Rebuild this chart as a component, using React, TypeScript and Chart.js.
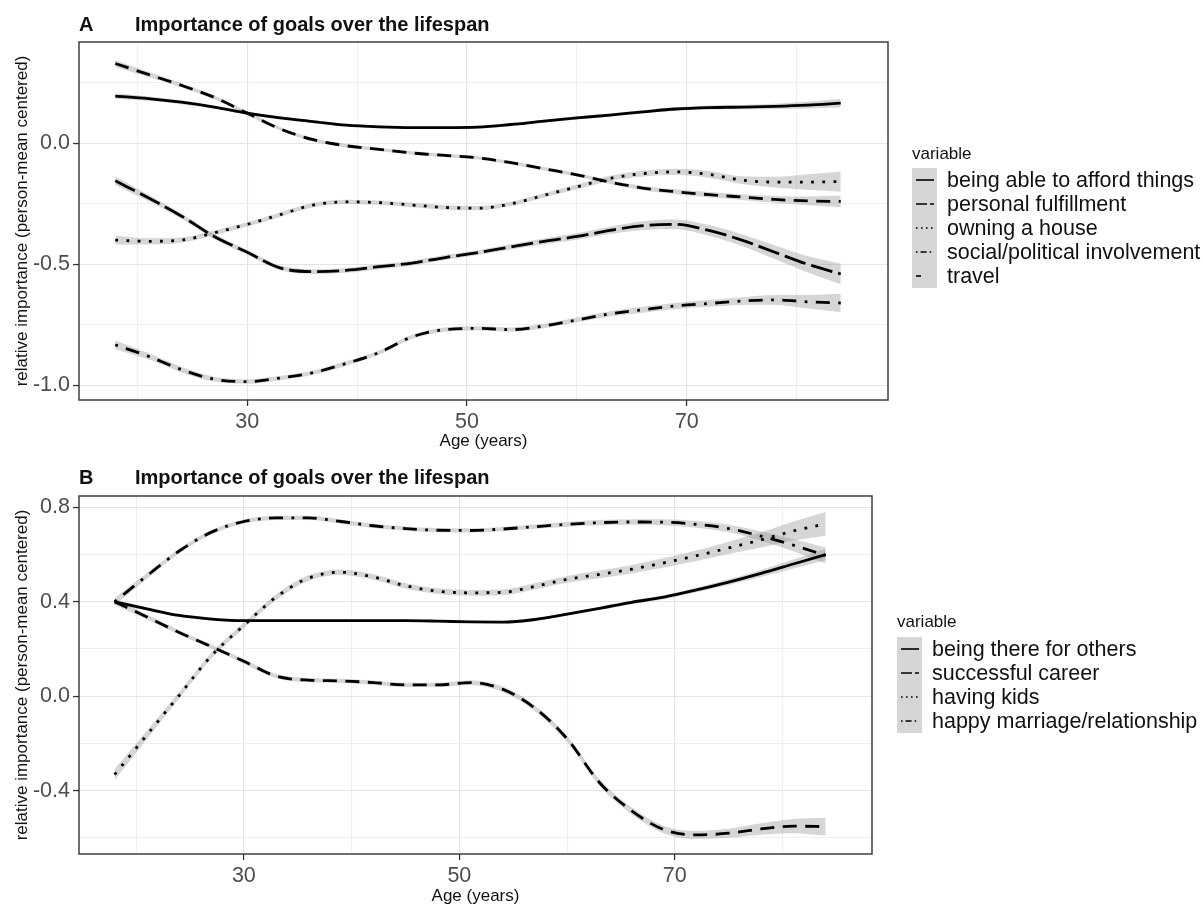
import React, { useEffect, useRef } from "react";
import { Chart, registerables } from "chart.js";

Chart.register(...registerables);

const FONT = "'Liberation Sans', Arial, Helvetica, sans-serif";
const BAND = "rgba(153,153,153,0.4)";

// Ages at which the smoothed curves are tabulated
const ages = [18, 21, 24, 27, 30, 33, 36, 39, 42, 45, 48, 51, 54, 57, 60, 63, 66, 69, 72, 75, 78, 81, 84];

// Panel A: smoothed relative importance
const affordThings = [0.195, 0.185, 0.17, 0.15, 0.125, 0.105, 0.09, 0.075, 0.068, 0.065, 0.065, 0.067, 0.078, 0.092, 0.105, 0.117, 0.13, 0.142, 0.148, 0.15, 0.153, 0.158, 0.166];
const personalFulfillment = [0.33, 0.285, 0.24, 0.19, 0.125, 0.06, 0.015, -0.01, -0.025, -0.04, -0.05, -0.06, -0.08, -0.105, -0.13, -0.16, -0.185, -0.2, -0.212, -0.222, -0.232, -0.238, -0.24];
const owningHouse = [-0.4, -0.405, -0.4, -0.37, -0.335, -0.295, -0.255, -0.242, -0.245, -0.255, -0.265, -0.268, -0.25, -0.215, -0.18, -0.145, -0.125, -0.118, -0.128, -0.152, -0.16, -0.16, -0.158];
const socialPolitical = [-0.833, -0.88, -0.935, -0.975, -0.985, -0.97, -0.948, -0.91, -0.865, -0.8, -0.77, -0.765, -0.77, -0.755, -0.73, -0.705, -0.688, -0.672, -0.662, -0.652, -0.647, -0.655, -0.66];
const travel = [-0.155, -0.225, -0.3, -0.385, -0.45, -0.515, -0.53, -0.525, -0.51, -0.495, -0.472, -0.452, -0.428, -0.405, -0.385, -0.36, -0.34, -0.335, -0.36, -0.4, -0.45, -0.5, -0.54];

// Panel A: half-widths of the confidence ribbons
const affordThingsCi = [0.012, 0.009, 0.008, 0.007, 0.007, 0.006, 0.006, 0.006, 0.006, 0.006, 0.006, 0.006, 0.006, 0.006, 0.006, 0.006, 0.007, 0.007, 0.008, 0.009, 0.011, 0.014, 0.018];
const personalFulfillmentCi = [0.014, 0.011, 0.009, 0.008, 0.008, 0.007, 0.007, 0.007, 0.007, 0.007, 0.007, 0.007, 0.007, 0.007, 0.007, 0.008, 0.009, 0.01, 0.011, 0.012, 0.014, 0.018, 0.024];
const owningHouseCi = [0.018, 0.013, 0.011, 0.01, 0.009, 0.009, 0.009, 0.009, 0.009, 0.009, 0.009, 0.009, 0.009, 0.009, 0.01, 0.011, 0.012, 0.013, 0.014, 0.016, 0.022, 0.032, 0.042];
const socialPoliticalCi = [0.018, 0.013, 0.011, 0.01, 0.009, 0.009, 0.009, 0.009, 0.009, 0.009, 0.009, 0.009, 0.009, 0.009, 0.01, 0.011, 0.012, 0.013, 0.014, 0.016, 0.02, 0.028, 0.038];
const travelCi = [0.018, 0.013, 0.011, 0.01, 0.01, 0.01, 0.01, 0.01, 0.01, 0.01, 0.01, 0.01, 0.011, 0.012, 0.013, 0.015, 0.018, 0.02, 0.022, 0.024, 0.028, 0.034, 0.042];

// Panel B: smoothed relative importance
const beingThere = [0.4, 0.37, 0.342, 0.327, 0.32, 0.32, 0.32, 0.32, 0.32, 0.32, 0.318, 0.315, 0.314, 0.325, 0.348, 0.372, 0.398, 0.42, 0.45, 0.483, 0.52, 0.56, 0.6];
const successfulCareer = [0.4, 0.336, 0.27, 0.21, 0.148, 0.085, 0.068, 0.065, 0.058, 0.048, 0.048, 0.058, 0.03, -0.05, -0.18, -0.365, -0.485, -0.565, -0.587, -0.58, -0.562, -0.55, -0.552];
const havingKids = [-0.332, -0.164, 0.004, 0.172, 0.3, 0.42, 0.5, 0.525, 0.505, 0.468, 0.445, 0.438, 0.44, 0.465, 0.495, 0.516, 0.538, 0.565, 0.595, 0.628, 0.662, 0.7, 0.73];
const happyMarriage = [0.4, 0.51, 0.615, 0.695, 0.74, 0.755, 0.755, 0.74, 0.722, 0.71, 0.703, 0.702, 0.708, 0.718, 0.728, 0.735, 0.738, 0.737, 0.728, 0.71, 0.678, 0.64, 0.596];

// Panel B: half-widths of the confidence ribbons
const beingThereCi = [0.01, 0.007, 0.006, 0.006, 0.006, 0.005, 0.005, 0.005, 0.005, 0.005, 0.005, 0.005, 0.005, 0.006, 0.006, 0.007, 0.008, 0.009, 0.01, 0.012, 0.015, 0.019, 0.024];
const successfulCareerCi = [0.014, 0.01, 0.009, 0.009, 0.009, 0.009, 0.009, 0.009, 0.009, 0.009, 0.009, 0.01, 0.011, 0.012, 0.013, 0.014, 0.015, 0.016, 0.017, 0.019, 0.024, 0.03, 0.038];
const havingKidsCi = [0.024, 0.018, 0.014, 0.012, 0.012, 0.012, 0.012, 0.012, 0.012, 0.012, 0.012, 0.012, 0.012, 0.013, 0.014, 0.016, 0.018, 0.02, 0.022, 0.026, 0.032, 0.04, 0.05];
const happyMarriageCi = [0.016, 0.012, 0.01, 0.009, 0.009, 0.009, 0.009, 0.009, 0.009, 0.009, 0.009, 0.009, 0.009, 0.009, 0.01, 0.011, 0.012, 0.013, 0.014, 0.016, 0.02, 0.026, 0.034];

// Axis ticks (grid positions) and the labelled subset
const ageGrid = [20, 30, 40, 50, 60, 70, 80];
const ageLabels = [30, 50, 70];
const panelAGrid = [-1.0, -0.75, -0.5, -0.25, 0, 0.25];
const panelALabels = [-1.0, -0.5, 0];
const panelBGrid = [-0.6, -0.4, -0.2, 0, 0.2, 0.4, 0.6, 0.8];
const panelBLabels = [-0.4, 0, 0.4, 0.8];

const seriesA = ["being able to afford things", "personal fulfillment", "owning a house", "social/political involvement", "travel"];
const seriesB = ["being there for others", "successful career", "having kids", "happy marriage/relationship"];

// Line types: solid, dashed, dotted, dotdash, longdash
const lineDashes = [[], [14, 8.5], [2.8, 8.4], [2.8, 8.4, 14, 8.4], [22, 6]];
const keyDashes = [[], [11, 3], [1.6, 3.4], [1.6, 3, 6, 3], [5, 30]];

const has = (list: number[], v: number) => list.some((t) => Math.abs(t - v) < 1e-6);

type PanelSpec = {
  tag: string;
  title: string;
  labels: string[];
  values: number[][];
  ci: number[][];
  yMin: number;
  yMax: number;
  yGrid: number[];
  yLabels: number[];
  height: number;
  plotTop: number;
  plotBottom: number;
  plotRight: number;
  keyX: number;
  legendTitleY: number;
  legendTop: number;
  xTitlePad: number;
};

const panelTitlePlugin = {
  id: "panelTitle",
  afterDraw(chart: any, _args: any, opts: any) {
    const ctx = chart.ctx;
    ctx.save();
    ctx.fillStyle = "#111";
    ctx.font = `bold 20px ${FONT}`;
    ctx.textBaseline = "middle";
    ctx.textAlign = "left";
    ctx.fillText(opts.tag, 79, opts.y);
    ctx.fillText(opts.text, 135, opts.y);
    ctx.restore();
  },
};

const panelBorderPlugin = {
  id: "panelBorder",
  afterDatasetsDraw(chart: any) {
    const { ctx, chartArea } = chart;
    ctx.save();
    ctx.strokeStyle = "#333333";
    ctx.lineWidth = 1.4;
    ctx.strokeRect(chartArea.left, chartArea.top, chartArea.right - chartArea.left, chartArea.bottom - chartArea.top);
    ctx.restore();
  },
};

const keyLegendPlugin = {
  id: "keyLegend",
  afterDraw(chart: any, _args: any, opts: any) {
    const ctx = chart.ctx;
    const row = 24;
    const keyW = 25;
    ctx.save();
    ctx.fillStyle = "#111";
    ctx.font = `17px ${FONT}`;
    ctx.textBaseline = "middle";
    ctx.textAlign = "left";
    ctx.fillText("variable", opts.x, opts.titleY);
    ctx.fillStyle = BAND;
    ctx.fillRect(opts.x, opts.top, keyW, row * opts.labels.length);
    opts.labels.forEach((label: string, i: number) => {
      const cy = opts.top + row * i + row / 2;
      ctx.strokeStyle = "#000";
      ctx.lineWidth = 1.6;
      ctx.setLineDash(opts.dashes[i]);
      ctx.beginPath();
      ctx.moveTo(opts.x + 4, cy);
      ctx.lineTo(opts.x + 22, cy);
      ctx.stroke();
      ctx.setLineDash([]);
      ctx.fillStyle = "#111";
      ctx.font = `21.5px ${FONT}`;
      ctx.fillText(label, opts.x + keyW + 10, cy + 1);
    });
    ctx.restore();
  },
};

function buildChart(canvas: HTMLCanvasElement, p: PanelSpec) {
  const datasets: any[] = [];
  p.values.forEach((vals, i) => {
    const lower = ages.map((a, k) => ({ x: a, y: vals[k] - p.ci[i][k] }));
    const upper = ages.map((a, k) => ({ x: a, y: vals[k] + p.ci[i][k] }));
    datasets.push({
      data: lower,
      borderColor: "rgba(0,0,0,0)",
      borderWidth: 0,
      pointRadius: 0,
      fill: false,
      cubicInterpolationMode: "monotone",
      order: 2,
    });
    datasets.push({
      data: upper,
      borderColor: "rgba(0,0,0,0)",
      borderWidth: 0,
      backgroundColor: BAND,
      pointRadius: 0,
      fill: "-1",
      cubicInterpolationMode: "monotone",
      order: 2,
    });
  });
  p.values.forEach((vals, i) => {
    datasets.push({
      label: p.labels[i],
      data: ages.map((a, k) => ({ x: a, y: vals[k] })),
      borderColor: "#000000",
      borderWidth: 2.8,
      borderDash: lineDashes[i],
      borderCapStyle: "butt",
      pointRadius: 0,
      fill: false,
      cubicInterpolationMode: "monotone",
      order: 1,
    });
  });

  const majorGrid = "#e4e4e4";
  const minorGrid = "#efefef";

  return new Chart(canvas, {
    type: "line",
    data: { datasets },
    plugins: [panelTitlePlugin, panelBorderPlugin, keyLegendPlugin],
    options: {
      responsive: false,
      animation: false,
      devicePixelRatio: 1,
      events: [],
      layout: { padding: { left: 0, top: p.plotTop, right: 1203 - p.plotRight, bottom: 0 } },
      plugins: {
        legend: { display: false },
        tooltip: { enabled: false },
        panelTitle: { tag: p.tag, text: p.title, y: 25 },
        keyLegend: {
          x: p.keyX,
          titleY: p.legendTitleY,
          top: p.legendTop,
          labels: p.labels,
          dashes: keyDashes,
        },
      } as any,
      scales: {
        x: {
          type: "linear",
          min: 14.7,
          max: 88.3,
          afterBuildTicks: (s: any) => {
            s.ticks = ageGrid.map((v) => ({ value: v }));
          },
          afterFit: (s: any) => {
            s.height = p.height - p.plotBottom;
          },
          ticks: {
            autoSkip: false,
            maxRotation: 0,
            padding: 3,
            color: "#4d4d4d",
            font: { family: FONT, size: 21.5 },
            callback: (v: any) => (has(ageLabels, Number(v)) ? String(v) : ""),
          },
          grid: {
            color: (c: any) => (has(ageLabels, c.tick.value) ? majorGrid : minorGrid),
            lineWidth: 1.1,
            tickLength: 6,
            tickWidth: 1.3,
            tickColor: (c: any) => (has(ageLabels, c.tick.value) ? "#333333" : "rgba(0,0,0,0)"),
          },
          border: { display: false },
          title: {
            display: true,
            text: "Age (years)",
            color: "#111",
            font: { family: FONT, size: 17 },
            padding: { top: 0, bottom: p.xTitlePad },
          },
        },
        y: {
          type: "linear",
          min: p.yMin,
          max: p.yMax,
          afterBuildTicks: (s: any) => {
            s.ticks = p.yGrid.map((v) => ({ value: v }));
          },
          afterFit: (s: any) => {
            s.width = 79;
          },
          ticks: {
            autoSkip: false,
            padding: 3,
            color: "#4d4d4d",
            font: { family: FONT, size: 21.5 },
            callback: (v: any) => (has(p.yLabels, Number(v)) ? Number(v).toFixed(1) : ""),
          },
          grid: {
            color: (c: any) => (has(p.yLabels, c.tick.value) ? majorGrid : minorGrid),
            lineWidth: 1.1,
            tickLength: 6,
            tickWidth: 1.3,
            tickColor: (c: any) => (has(p.yLabels, c.tick.value) ? "#333333" : "rgba(0,0,0,0)"),
          },
          border: { display: false },
          title: {
            display: true,
            text: "relative importance (person-mean centered)",
            color: "#111",
            font: { family: FONT, size: 17 },
            padding: { top: 12, bottom: 0 },
          },
        },
      },
    } as any,
  });
}

const panelA: PanelSpec = {
  tag: "A",
  title: "Importance of goals over the lifespan",
  labels: seriesA,
  values: [affordThings, personalFulfillment, owningHouse, socialPolitical, travel],
  ci: [affordThingsCi, personalFulfillmentCi, owningHouseCi, socialPoliticalCi, travelCi],
  yMin: -1.061,
  yMax: 0.419,
  yGrid: panelAGrid,
  yLabels: panelALabels,
  height: 453,
  plotTop: 42,
  plotBottom: 400,
  plotRight: 888,
  keyX: 912,
  legendTitleY: 154,
  legendTop: 168,
  xTitlePad: 1,
};

const panelB: PanelSpec = {
  tag: "B",
  title: "Importance of goals over the lifespan",
  labels: seriesB,
  values: [beingThere, successfulCareer, havingKids, happyMarriage],
  ci: [beingThereCi, successfulCareerCi, havingKidsCi, happyMarriageCi],
  yMin: -0.668,
  yMax: 0.848,
  yGrid: panelBGrid,
  yLabels: panelBLabels,
  height: 454,
  plotTop: 43,
  plotBottom: 401,
  plotRight: 872,
  keyX: 897,
  legendTitleY: 169,
  legendTop: 184,
  xTitlePad: 0,
};

function Panel({ spec }: { spec: PanelSpec }) {
  const ref = useRef<HTMLCanvasElement | null>(null);
  useEffect(() => {
    if (!ref.current) return;
    const chart = buildChart(ref.current, spec);
    return () => chart.destroy();
  }, [spec]);
  return <canvas ref={ref} width={1203} height={spec.height} style={{ display: "block", width: 1203, height: spec.height }} />;
}

export default function App() {
  return (
    <div style={{ position: "absolute", left: 0, top: 0, width: 1203, height: 907, background: "#ffffff" }}>
      <Panel spec={panelA} />
      <Panel spec={panelB} />
    </div>
  );
}
